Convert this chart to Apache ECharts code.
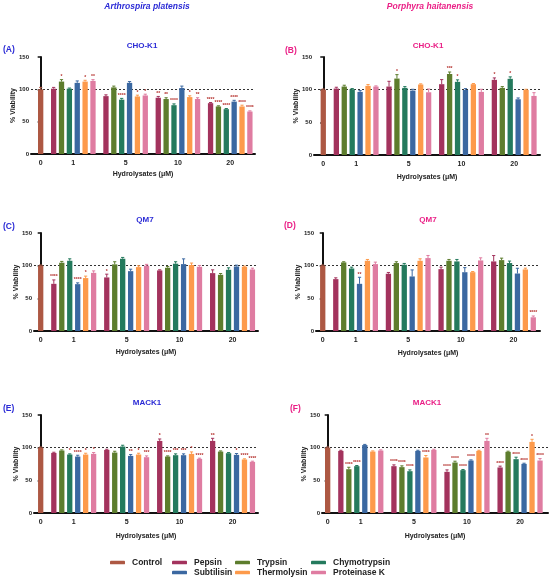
<!DOCTYPE html>
<html>
<head>
<meta charset="utf-8">
<script src="https://cdn.jsdelivr.net/npm/echarts@6/dist/echarts.min.js"></script>
<style>
  html, body { margin: 0; padding: 0; background: #fff; }
  #main { width: 550px; height: 587px; }
</style>
</head>
<body>
<div id="main"></div>
<script>
// categories
var doses = ['1', '5', '10', '20'];
var enzymes = ['Pepsin', 'Trypsin', 'Chymotrypsin', 'Subtilisin', 'Thermolysin', 'Proteinase K'];
var yTicks = [0, 50, 100, 150];

// % viability, rows = dose (1, 5, 10, 20), cols = enzyme
var controlVal = [100, 100, 100, 100, 100, 100];   // A..F
var controlErr = [3, 1, 1, 1, 1, 1];

var valA = [[101, 112, 101, 110, 112, 113], [89.5, 103, 84, 110, 89, 90.5], [87, 85, 75.5, 102, 88, 85], [78.6, 73.5, 69.3, 81, 73.5, 65.7]];
var errA = [[2, 3, 1, 3, 2, 2], [2, 2, 2, 2, 2, 2], [2, 2, 2, 3, 2, 2], [1, 1, 1, 2, 2, 1]];
var sigA = [['', '*', '', '', '*', '**'], ['', '', '****', '', '*', '*'], ['**', '**', '****', '', '*', '**'], ['****', '****', '****', '****', '****', '****']];

var valB = [[101.7, 104.8, 100.7, 96.6, 105.8, 104.8], [104.8, 117, 102.7, 98.6, 107.9, 96], [108.4, 124, 112, 99.6, 108.4, 96.6], [115, 102.7, 116.6, 85.3, 99.6, 90.4]];
var errB = [[2, 2, 1, 2, 2, 1], [8, 6, 2, 2, 1, 5], [7, 3, 3, 2, 1, 4], [3, 2, 3, 2, 1, 5]];
var sigB = [['', '', '', '', '', ''], ['', '*', '', '', '', ''], ['', '***', '*', '', '', ''], ['*', '', '*', '', '', '']];

var valC = [[72.2, 104.5, 107.5, 71.7, 81, 89], [82, 102, 110.6, 91.6, 97.8, 100], [92.7, 96.8, 103, 102.4, 101, 98.3], [88.6, 86, 93.7, 98.8, 98.3, 94.2]];
var errC = [[6, 2, 3, 2, 3, 3], [5, 4, 2, 3, 2, 2], [1, 2, 3, 8, 3, 2], [5, 2, 3, 2, 1, 2]];
var sigC = [['****', '', '', '****', '*', ''], ['*', '', '', '', '', ''], ['', '', '', '', '', ''], ['', '', '', '', '', '']];

var valD = [[79.4, 105, 95.7, 72.2, 107.5, 102.4], [87.6, 104, 101.4, 83.5, 107.5, 111.6], [94.7, 107.5, 106.5, 90, 90, 108], [106.5, 108.5, 104, 88, 94.2, 21]];
var errD = [[2, 1, 2, 10, 2, 3], [2, 2, 2, 10, 3, 4], [3, 2, 3, 7, 1, 4], [9, 3, 3, 8, 2, 2]];
var sigD = [['', '', '', '**', '', ''], ['', '', '', '', '', ''], ['', '', '', '', '', ''], ['', '', '', '', '', '****']];

var valE = [[92, 95.6, 89.5, 86.4, 89.5, 90.5], [96.6, 92.5, 101.7, 87.4, 89.5, 85.4], [110.3, 86.4, 88.5, 88.5, 90.5, 82.9], [110.3, 94, 91.5, 89, 81.9, 78.3]];
var errE = [[1, 1, 1, 2, 2, 2], [1, 2, 2, 2, 2, 2], [3, 1, 2, 2, 3, 1], [4, 1, 1, 2, 1, 1]];
var sigE = [['', '', '*', '****', '*', '*'], ['', '', '', '**', '*', '***'], ['*', '****', '***', '***', '*', '****'], ['**', '', '', '*', '****', '****']];

var valF = [[95, 67, 71.7, 104, 94, 95.6], [71.7, 70.2, 64, 95, 85, 96.6], [63, 77.3, 65.6, 80.3, 95, 110.3], [69.7, 93.6, 82.4, 75.2, 108.8, 80.3]];
var errF = [[1, 3, 1, 1, 1, 1], [2, 2, 2, 1, 3, 1], [3, 2, 1, 1, 1, 4], [2, 1, 3, 1, 4, 3]];
var sigF = [['', '****', '****', '', '', ''], ['****', '****', '****', '', '****', ''], ['****', '****', '****', '****', '', '**'], ['****', '', '****', '****', '*', '****']];

var colors = {
    'Control': '#ad5843',
    'Pepsin': '#a3335d',
    'Trypsin': '#5d7d2d',
    'Chymotrypsin': '#247a5d',
    'Subtilisin': '#3b68a1',
    'Thermolysin': '#fd9a4b',
    'Proteinase K': '#df7ca1'
};
var BLUE = '#2b2bd6';
var PINK = '#ea1f86';
var FONT = 'Liberation Sans';

var panels = [
    { vals: valA, errs: errA, sigs: sigA, letter: '(A)', cell: 'CHO-K1', col: BLUE, xGap: 17,
      grid: { left: 31, width: 224, top: 57, height: 97 }, xr: [-1.23, 27.25], tx: 142, ty: 46, lx: 3, ly: 50 },
    { vals: valB, errs: errB, sigs: sigB, letter: '(B)', cell: 'CHO-K1', col: PINK, xGap: 19,
      grid: { left: 314, width: 226, top: 57, height: 98 }, xr: [-1.17, 27.36], tx: 428, ty: 46, lx: 285, ly: 51 },
    { vals: valC, errs: errC, sigs: sigC, letter: '(C)', cell: 'QM7', col: BLUE, xGap: 18,
      grid: { left: 34, width: 224, top: 233, height: 98 }, xr: [-0.84, 27.3], tx: 145, ty: 220, lx: 3, ly: 227 },
    { vals: valD, errs: errD, sigs: sigD, letter: '(D)', cell: 'QM7', col: PINK, xGap: 19,
      grid: { left: 316, width: 224, top: 233, height: 98 }, xr: [-0.85, 27.45], tx: 428, ty: 220, lx: 284, ly: 226 },
    { vals: valE, errs: errE, sigs: sigE, letter: '(E)', cell: 'MACK1', col: BLUE, xGap: 20,
      grid: { left: 34, width: 224, top: 415, height: 98 }, xr: [-0.84, 27.3], tx: 147, ty: 403, lx: 3, ly: 409 },
    { vals: valF, errs: errF, sigs: sigF, letter: '(F)', cell: 'MACK1', col: PINK, xGap: 20,
      grid: { left: 322, width: 226, top: 415, height: 98 }, xr: [-0.71, 27.6], tx: 427, ty: 403, lx: 290, ly: 409 }
];

// bar slots: control at 0, then groups of 6 with a wider gap
var GAP = 1.65;
function slotX(k, j) { return GAP + k * (5 + GAP) + j; }
var labelPos = [0].concat(doses.map(function (d, k) { return slotX(k, 2.5); }));
var labelTxt = ['0'].concat(doses);

var grids = [], xAxes = [], yAxes = [], series = [], graphics = [];

panels.forEach(function (p, pi) {
    grids.push(p.grid);
    xAxes.push({
        type: 'value', gridIndex: pi, min: p.xr[0], max: p.xr[1],
        name: 'Hydrolysates (\u03bcM)', nameLocation: 'middle', nameGap: p.xGap, nameMoveOverlap: false,
        nameTextStyle: { fontFamily: FONT, fontWeight: 'bold', fontSize: 7, color: '#222' },
        axisLine: { lineStyle: { color: '#111', width: 2 } },
        axisTick: { show: false },
        splitLine: { show: false },
        axisLabel: {
            customValues: labelPos, margin: 6,
            fontFamily: FONT, fontWeight: 'bold', fontSize: 7, color: '#222',
            formatter: function (v) {
                for (var i = 0; i < labelPos.length; i++) {
                    if (Math.abs(labelPos[i] - v) < 0.01) return labelTxt[i];
                }
                return '';
            }
        }
    });
    yAxes.push({
        type: 'value', gridIndex: pi, min: 0, max: 150, interval: 50,
        name: '% Viability', nameLocation: 'middle', nameGap: 14, nameMoveOverlap: false,
        nameTextStyle: { fontFamily: FONT, fontWeight: 'bold', fontSize: 7, color: '#222' },
        axisLine: { show: true, lineStyle: { color: '#111', width: 2 } },
        axisTick: { show: true, length: 3, lineStyle: { color: '#111', width: 1.5 } },
        splitLine: { show: false },
        axisLabel: { margin: 2, fontFamily: FONT, fontWeight: 'bold', fontSize: 6, color: '#222',
            formatter: function (v) { return yTicks.indexOf(v) >= 0 ? String(v) : ''; } }
    });

    var errItems = [];
    // control
    series.push({
        name: 'Control', type: 'bar', xAxisIndex: pi, yAxisIndex: pi,
        barWidth: 5.3, barGap: '-100%',
        itemStyle: { color: colors['Control'] },
        data: [[0, controlVal[pi]]],
        markLine: {
            silent: true, z: 1, symbol: ['none', 'none'], label: { show: false },
            lineStyle: { type: [2, 2], color: '#333', width: 1 },
            data: [{ yAxis: 100 }]
        }
    });
    errItems.push({ value: [0, controlVal[pi], controlErr[pi]], c: colors['Control'], sig: '' });

    enzymes.forEach(function (en, j) {
        var data = doses.map(function (d, k) { return [slotX(k, j), p.vals[k][j]]; });
        series.push({
            name: en, type: 'bar', xAxisIndex: pi, yAxisIndex: pi,
            barWidth: 5.3, barGap: '-100%',
            itemStyle: { color: colors[en] },
            data: data
        });
        doses.forEach(function (d, k) {
            errItems.push({ value: [slotX(k, j), p.vals[k][j], p.errs[k][j]], c: colors[en], sig: p.sigs[k][j] });
        });
    });

    series.push({
        name: 'err' + pi, type: 'custom', xAxisIndex: pi, yAxisIndex: pi, z: 3,
        data: errItems.map(function (it) { return it.value; }),
        renderItem: function (params, api) {
            var it = errItems[params.dataIndex];
            var x = api.value(0), y = api.value(1), e = api.value(2);
            var b = api.coord([x, y]);
            var t = api.coord([x, y + e]);
            var kids = [
                { type: 'line', shape: { x1: b[0], y1: b[1], x2: t[0], y2: t[1] }, style: { stroke: it.c, lineWidth: 1 } },
                { type: 'line', shape: { x1: t[0] - 1.6, y1: t[1], x2: t[0] + 1.6, y2: t[1] }, style: { stroke: it.c, lineWidth: 1 } }
            ];
            if (it.sig) {
                kids.push({ type: 'text', style: { text: it.sig, x: t[0], y: t[1] - 0.5, textAlign: 'center', textVerticalAlign: 'bottom',
                    fill: '#b5322e', fontSize: 5, fontFamily: FONT, fontWeight: 'bold' } });
            }
            return { type: 'group', children: kids };
        }
    });

    graphics.push({ type: 'text', x: p.tx, y: p.ty, style: { text: p.cell, textAlign: 'center', textVerticalAlign: 'middle',
        fill: p.col, font: 'bold 8px "Liberation Sans"' } });
    graphics.push({ type: 'text', x: p.lx, y: p.ly, style: { text: p.letter, textAlign: 'left', textVerticalAlign: 'middle',
        fill: p.col, font: 'bold 8.5px "Liberation Sans"' } });
});

graphics.push({ type: 'text', x: 147, y: 7, style: { text: 'Arthrospira platensis', textAlign: 'center', textVerticalAlign: 'middle',
    fill: BLUE, font: 'italic bold 8.5px "Liberation Sans"' } });
graphics.push({ type: 'text', x: 430, y: 7, style: { text: 'Porphyra haitanensis', textAlign: 'center', textVerticalAlign: 'middle',
    fill: PINK, font: 'italic bold 8.5px "Liberation Sans"' } });

// legend: one component per entry so the columns line up
var legendSpots = [
    ['Control', 110, 558], ['Pepsin', 172, 558], ['Trypsin', 235, 558], ['Chymotrypsin', 311, 558],
    ['Subtilisin', 172, 568], ['Thermolysin', 235, 568], ['Proteinase K', 311, 568]
];
var legends = legendSpots.map(function (s) {
    return {
        data: [{ name: s[0], icon: 'roundRect' }], left: s[1], top: s[2], padding: 0,
        itemWidth: 15, itemHeight: 3.5, selectedMode: false,
        textStyle: { fontFamily: FONT, fontWeight: 'bold', fontSize: 8.5, color: '#222', padding: [0, 0, 0, 2] }
    };
});

var myChart = echarts.init(document.getElementById('main'));
myChart.setOption({
    animation: false,
    backgroundColor: '#fff',
    grid: grids,
    xAxis: xAxes,
    yAxis: yAxes,
    legend: legends,
    series: series,
    graphic: graphics
});
</script>
</body>
</html>
